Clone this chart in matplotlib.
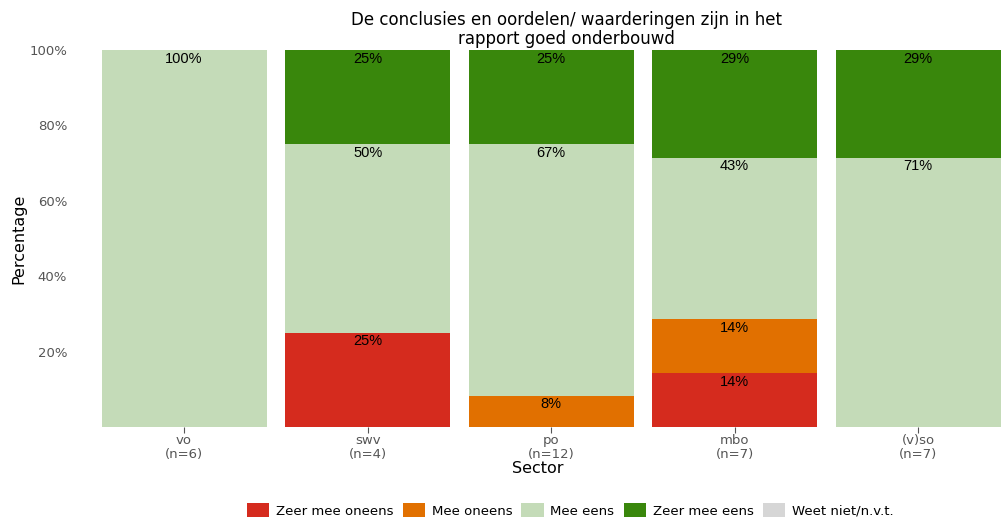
import numpy as np
import matplotlib.pyplot as plt
from matplotlib.patches import Patch

sectors = ['vo', 'swv', 'po', 'mbo', '(v)so']
n_resp = [6, 4, 12, 7, 7]
categories = ['Zeer mee oneens', 'Mee oneens', 'Mee eens', 'Zeer mee eens', 'Weet niet/n.v.t.']
colors = ['#D52B1E', '#E17000', '#C4DBB8', '#39870C', '#D6D6D6']

# counts per category (rows follow categories, columns follow sectors)
zeer_oneens = [0, 1, 0, 1, 0]
oneens = [0, 0, 1, 1, 0]
eens = [6, 2, 8, 3, 5]
zeer_eens = [0, 1, 3, 2, 2]
weet_niet = [0, 0, 0, 0, 0]

counts = np.array([zeer_oneens, oneens, eens, zeer_eens, weet_niet], dtype=float)
shares = counts / np.array(n_resp, dtype=float)

fig = plt.figure(figsize=(10.02, 5.17), dpi=100)
ax = fig.add_axes([74 / 1002, 90 / 517, 928 / 1002, 377 / 517])

x = np.arange(len(sectors))
bottom = np.zeros(len(sectors))
for i, cat in enumerate(categories):
    vals = shares[i]
    ax.bar(x, vals, width=0.9, bottom=bottom, color=colors[i], linewidth=0)
    for xi, v, b in zip(x, vals, bottom):
        if v > 0:
            ax.text(xi, b + v - 0.004, f'{round(v * 100):.0f}%', ha='center', va='top',
                    fontsize=10.5, family='Liberation Sans', color='black')
    bottom += vals

ax.set_xlim(-0.6, 4.457)
ax.set_ylim(0, 1)
ax.set_yticks([0.2, 0.4, 0.6, 0.8, 1.0])
ax.set_yticklabels(['20%', '40%', '60%', '80%', '100%'])
ax.set_xticks(x)
ax.set_xticklabels([f'{s}\n(n={n})' for s, n in zip(sectors, n_resp)], linespacing=1.15)
ax.tick_params(axis='y', length=0, labelsize=9.5, labelcolor='#555555', pad=5)
ax.tick_params(axis='x', length=4, color='#555555', labelsize=9.5, labelcolor='#555555', pad=1)
for s in ax.spines.values():
    s.set_visible(False)

ax.set_xlabel('Sector', fontsize=11.5, labelpad=0)
ax.set_ylabel('Percentage', fontsize=11.5, labelpad=2)
fig.text(0.565, 0.978, 'De conclusies en oordelen/ waarderingen zijn in het\nrapport goed onderbouwd',
         ha='center', va='top', fontsize=12, linespacing=1.05)

handles = [Patch(facecolor=c, edgecolor='none') for c in colors]
fig.legend(handles, categories, loc='lower center', bbox_to_anchor=(0.569, -0.025), ncol=5,
           frameon=False, fontsize=9.5, handlelength=1.7, handleheight=1.4,
           handletextpad=0.5, columnspacing=0.7)

fig.savefig('out.png', dpi=100)
